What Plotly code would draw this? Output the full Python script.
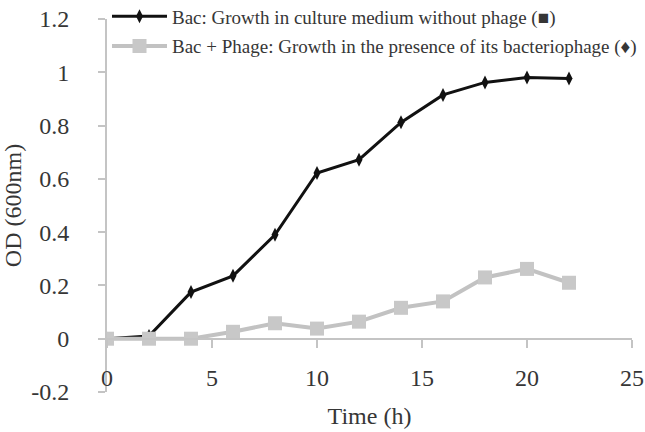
import plotly.graph_objects as go

# growth data
time_h = [0, 2, 4, 6, 8, 10, 12, 14, 16, 18, 20, 22]
od_bac = [0, 0.01, 0.175, 0.236, 0.39, 0.622, 0.672, 0.812, 0.915, 0.962, 0.98, 0.977]
od_bac_phage = [0, 0, 0, 0.026, 0.058, 0.038, 0.064, 0.116, 0.14, 0.23, 0.262, 0.21]

y_ticks = [-0.2, 0, 0.2, 0.4, 0.6, 0.8, 1, 1.2]
y_labels = ["-0.2", "0", "0.2", "0.4", "0.6", "0.8", "1", "1.2"]
x_ticks = [0, 5, 10, 15, 20, 25]

serif = "Liberation Serif"
axis_grey = "#c4c4c4"
text_col = "#363636"

fig = go.Figure()
fig.add_trace(go.Scatter(
    x=time_h, y=od_bac, mode="lines+markers",
    name="Bac: Growth in culture medium without phage (\u25a0)",
    line=dict(color="#111111", width=3),
    marker=dict(symbol="diamond-tall", size=10, color="#111111"),
    legendgroup="a",
))
fig.add_trace(go.Scatter(
    x=time_h, y=od_bac_phage, mode="lines+markers",
    name="Bac + Phage: Growth in the presence of its bacteriophage (\u2666)",
    line=dict(color="#c2c2c2", width=4),
    marker=dict(symbol="square", size=14, color="#c8c8c8"),
    legendgroup="b",
))

fig.update_layout(
    width=645, height=432,
    margin=dict(l=107, r=13, t=19, b=40, autoexpand=False),
    plot_bgcolor="white", paper_bgcolor="white",
    font=dict(family=serif, color=text_col),
    legend=dict(
        x=0.0, y=1.058, xanchor="left", yanchor="top",
        font=dict(family=serif, size=19, color=text_col),
        bgcolor="rgba(0,0,0,0)", tracegroupgap=2, itemwidth=55,
    ),
    xaxis=dict(
        range=[0, 25], tickvals=x_ticks,
        anchor="free", position=0.2 / 1.4,
        showline=True, linecolor=axis_grey, linewidth=2,
        ticks="outside", ticklen=8, tickcolor=axis_grey, tickwidth=2,
        showgrid=False, zeroline=False,
        tickfont=dict(family=serif, size=24, color=text_col),
        ticklabelstandoff=9,
        title=dict(text="Time (h)", font=dict(family=serif, size=24, color=text_col),
                   standoff=17),
    ),
    yaxis=dict(
        range=[-0.2, 1.2], tickvals=y_ticks, ticktext=y_labels,
        showline=True, linecolor=axis_grey, linewidth=2,
        ticks="outside", ticklen=7, tickcolor=axis_grey, tickwidth=2,
        showgrid=False, zeroline=False,
        tickfont=dict(family=serif, size=24, color=text_col),
        ticklabelstandoff=24,
        title=dict(text="OD (600nm)", font=dict(family=serif, size=24, color=text_col),
                   standoff=10),
    ),
)

fig.write_html("out.html", config={"displayModeBar": False},
               post_script="document.body.style.margin='0';")
